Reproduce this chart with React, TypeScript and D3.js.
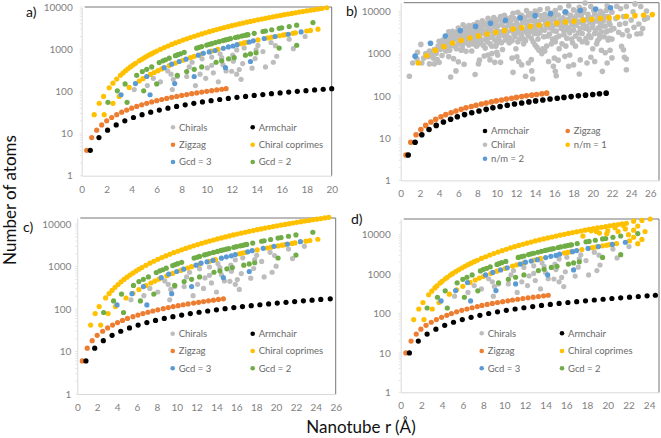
import * as d3 from "d3";
import { useEffect, useRef } from "react";

type Pt = [number, number];

// ---------- panel a ----------
const aChirals: Pt[] = [[4.2,110],[5.25,137],[5.73,204],[6.3,168],[6.88,305],[7.15,255],[7.33,193],[7.25,110],[7.65,225],[8.4,225],[8.6,380],[8.83,490],[9.1,137],[9.47,255],[9.63,590],[9.92,204],[10.05,360],[10.4,415],[10.53,275],[10.4,650],[10.93,168],[11.07,780],[11.2,630],[11.3,430],[11.55,305],[12,300],[12.08,720],[12.13,520],[12.4,960],[12.4,255],[12.6,330],[12.75,193],[12.88,455],[13,1070],[13.63,355],[13.87,600],[13.95,970],[14.1,1230],[14.5,880],[14.7,380],[15.15,1440],[15.33,490],[15.5,1210],[15.6,680],[16.6,1720],[16.93,1030],[17.87,2000]];
const aArmchair: Pt[] = [[0.69,4],[1.38,8],[2.07,12],[2.76,16],[3.45,20],[4.14,24],[4.83,28],[5.52,32],[6.21,36],[6.9,40],[7.59,44],[8.28,48],[8.97,52],[9.66,56],[10.35,60],[11.04,64],[11.73,68],[12.42,72],[13.11,76],[13.8,80],[14.49,84],[15.18,88],[15.87,92],[16.56,96],[17.25,100],[17.94,104],[18.63,108],[19.32,112],[20,116]];
const aZigzag: Pt[] = [[0.4,4],[0.8,8],[1.2,12],[1.6,16],[2,20],[2.4,24],[2.8,28],[3.2,32],[3.6,36],[4,40],[4.4,44],[4.8,48],[5.2,52],[5.6,56],[6,60],[6.4,64],[6.8,68],[7.2,72],[7.6,76],[8,80],[8.4,84],[8.8,88],[9.2,92],[9.6,96],[10,100],[10.4,104],[10.8,108],[11.2,112],[11.55,116]];
const aCoprimes: Pt[] = [[1,28],[1.4,52],[1.75,76],[1.8,28],[2.5,52],[3,76],[3.8,124],[4.6,176],[4.9,200],[5.5,252],[5.8,280],[6.1,310],[6.4,341],[7,408],[7.5,468],[8.1,546],[8.7,630],[9,675],[9.6,768],[10.4,900],[10.9,990],[12.7,1344],[13,1408],[13.2,1451],[14.1,1656],[14.9,1849],[15.2,1924],[15.8,2080],[16.1,2160],[16.3,2213],[16.9,2379],[17.1,2436],[18,2700],[18.3,2790],[18.9,2975],
  [2.2,121],[2.5,156],[2.8,196],[3.1,240],[3.3,272],[3.5,306],[3.7,342],[3.9,380],[4.1,420],[4.3,462],[4.6,529],[4.8,576],[5,625],[5.2,676],[5.4,729],[5.6,784],[5.8,841],[6,900],[6.3,992],[6.6,1089],[6.9,1190],[7.2,1296],[7.5,1406],[7.8,1521],[8.1,1640],[8.4,1764],[8.7,1892],[9,2025],[9.3,2162],[9.6,2304],[9.9,2450],[10.2,2601],[10.5,2756],[10.8,2916],[11.1,3080],[11.4,3249],[11.7,3422],[12,3600],[12.3,3782],[12.6,3969],[12.9,4160],[13.2,4356],[13.5,4556],[13.8,4761],[14.1,4970],[14.4,5184],[14.7,5402],[15,5625],[15.3,5852],[15.6,6084],[15.9,6320],[16.2,6561],[16.5,6806],[16.8,7056],[17.1,7310],[17.4,7569],[17.7,7832],[18,8100],[18.3,8372],[18.6,8649],[18.9,8930],[19.2,9216],[19.6,9604]];
const aGcd3: Pt[] = [[3.15,83],[4.3,153],[5.2,225],[6.6,365],[7.2,440],[7.8,510],[8.35,580],[9.33,720],[9.73,800],[10.2,860],[10.67,930],[11.33,1050],[11.73,1130],[12.1,1190],[12.43,1280],[13.4,1480],[13.73,1580],[14.6,1790],[15.47,2000],[16.53,2260],[17.55,2570],[5.47,83],[7.44,153],[9,225],[11.5,365],[13.5,510]];
const aGcd2: Pt[] = [[4.4,240],[4.85,295],[5.2,333],[5.6,380],[6.2,480],[6.5,528],[6.7,561],[7,612],[7.5,703],[7.7,741],[7.9,780],[8.2,840],[9.2,1058],[9.4,1105],[9.6,1152],[10,1250],[10.2,1300],[10.4,1352],[10.7,1431],[11,1512],[11.3,1596],[11.5,1653],[11.7,1711],[11.9,1770],[12.3,1891],[12.5,1953],[12.8,2048],[13,2112],[13.2,2178],[13.3,2211],[13.8,2380],[14.5,2628],[14.7,2701],[15.2,2888],[15.8,3120],[16,3200],[16.6,3445],[17.2,3698],[18.5,4278],
  [2.1,55],[2.85,103],[3.47,150],[3.63,55],[4.96,103],[6,150],[7.65,240],[8.4,295],[9,333],[9.6,380],[10.75,490],[11.2,530],[11.75,590],[12.2,630],[13.1,720],[13.5,770],[13.95,820],[15.8,1060],[17.2,1240]];

// ---------- panel b ----------
const bArmchair: Pt[] = [[0.78,4],[1.5,8],[2.2,12],[2.95,16],[3.7,20],[4.45,24],[5.2,28],[5.9,32],[6.65,36],[7.4,40],[8.15,44],[8.9,48],[9.6,52],[10.35,56],[11.1,60],[11.85,64],[12.6,68],[13.35,72],[14.05,76],[14.8,80],[15.55,84],[16.3,88],[17,92],[17.75,96],[18.5,100],[19.25,104],[20,108],[20.7,112],[21.4,116]];
const bZigzag: Pt[] = [[0.55,4],[1.05,8],[1.6,12],[2.1,16],[2.6,20],[3.15,24],[3.65,28],[4.2,32],[4.7,36],[5.25,40],[5.75,44],[6.3,48],[6.8,52],[7.35,56],[7.85,60],[8.4,64],[8.9,68],[9.45,72],[9.95,76],[10.5,80],[11,84],[11.55,88],[12.05,92],[12.6,96],[13.1,100],[13.65,104],[14.15,108],[14.7,112],[15.2,116]];
const bRatio1: Pt[] = [[1.84,600],[2.7,890],[3.6,1190],[4.5,1460],[5.4,1780],[6.3,2050],[7.2,2330],[8.1,2620],[9,2900],[9.9,3200],[10.8,3500],[11.7,3800],[12.6,4100],[13.5,4400],[14.4,4700],[15.3,5000],[16.25,5300],[17.15,5600],[18.05,5800],[19,6200],[19.9,6500],[20.8,6800],[21.7,7000],[22.6,7300],[23.5,7600],[24.4,7900],[25.3,8100],[26.2,8400]];
const bRatio2: Pt[] = [[1.5,870],[3.1,1750],[4.65,2600],[6.2,3500],[7.8,4400],[9.35,5200],[10.9,6100],[12.45,7000],[14,7900],[15.6,8800],[17.15,9700],[18.7,10500],[20.3,11300],[21.85,12100]];
const bChiral: Pt[] = [[0.9,290],[1.25,600],[2.2,600],[1.75,1080],[2.1,1650],[3,570],[3.5,570],[4,620],[5.2,280],[5.75,390],[5.5,760],[6,640],[6.6,560],[6.8,1130],[7.75,320],[8.1,570],[8.2,700],[8.7,880],[9.1,930],[9.5,1000],[10,1080],[10.1,930],[9.3,710],[9.8,620],[10.4,620],[11.7,360],[11.6,780],[12.1,840],[12.3,650],[12.6,540],[13,290],[13.3,600],[13.6,720],[13.65,390],[13.75,250],[14.2,1400],[14.4,1200],[14.7,1000],[15.4,650],[15.9,500],[16.1,380],[16.2,300],[16,780],[16.4,700],[17.1,860],[17.5,500],[18,540],[17.6,930],[18.7,710],[18.6,330],[19.4,600],[19.8,820],[20.2,650],[21,380],[21.5,600],[22,790],[23.5,415],[23.5,740],[23.3,820],[23,1480],[23.2,1230],
  [1.7,750],[2.4,780],[2.6,1000],[2.9,850],[3,1150],[3.2,950],[3.4,780],[3.5,1250],[3.7,1000],[3.8,720],[3.9,1500],[4,1950],[4.1,1250],[4.3,900],[4.4,2100],[4.6,1700],[4.7,1150],[4.8,2000],[4.9,1400],[5,850],[5,3300],[5.2,2200],[5.3,1550],[5.4,3350],[5.6,2500],[5.8,1300],[5.9,3300],[6,4000],[6.1,2700],[6.2,1800],[6.4,1400],[6.5,4800],[6.6,3000],[6.7,4100],[6.8,2200],[7,3600],[7.1,1600],[7.3,4400],[7.4,1150],[7.5,2700],[7.6,3300],[7.8,2000],[7.9,1500],[8,5400],[8.1,3600],[8.2,2500],[8.3,1800],[8.5,6000],[8.6,4700],[8.7,3000],[8.8,1350],[8.9,2200],[9.1,6800],[9.2,3800],[9.3,1700],[9.5,5800],[9.6,2600],[9.7,7100],[9.8,4300],[9.9,1500],[10.1,6200],[10.2,3000],[10.3,2000],[10.4,7500],[10.5,4800],[10.6,1250],[10.8,8100],[10.9,3700],[11,2500],[11.2,5500],[11.3,1800],[11.5,7200],[11.6,4000],[11.7,9000],[11.8,2900],[12,6200],[12,1300],[12.2,9500],[12.3,4500],[12.4,2200],[12.6,8000],[12.7,3300],[12.8,1700],[13,6000],[13.1,10500],[13.2,4400],[13.3,2600],[13.5,8800],[13.6,3400],[13.8,1900],[13.9,6500],[14,10200],[14.1,4900],[14.3,2900],[14.5,11000],[14.6,7800],[14.7,3700],[14.8,1300],[15,1150],[15.1,6200],[15.2,4500],[15.3,11400],[15.5,2900],[15.6,7000],[15.7,1700],[15.9,3500],[16,8000],[16.1,10500],[16.2,2400],[16.4,5500],[16.5,1300],[16.6,12200],[16.8,4300],[16.9,7000],[17,2800],[17.2,1500],[17.3,9000],[17.4,3700],[17.5,13500],[17.6,6000],[17.8,2200],[18,10800],[18,4700],[18.2,1500],[18.3,7800],[18.5,3100],[18.6,12500],[18.8,5500],[18.9,1900],[19,9500],[19.2,15800],[19.2,4000],[19.4,1800],[19.5,6800],[19.6,2700],[19.8,13000],[20,5000],[20,1300],[20.2,8800],[20.3,3500],[20.5,2000],[20.6,6000],[20.7,2800],[20.8,10000],[20.9,1200],[21,4500],[21.2,7500],[21.3,1050],[21.4,3300],[21.5,13500],[21.6,2100],[21.7,5700],[21.8,1200],[22,9500],[22,2200],[22.2,3900],[22.4,6800],[22.5,13200],[22.7,3200],[22.8,4900],[22.9,11500],[23.1,2800],[23.2,7500],[23.4,5200],[23.5,13000],[23.6,3500],[23.8,2600],[24,6200],[24.2,9800],[24.3,4200],[24.4,15000],[24.6,2900],[24.8,5000],[25,13000],[25,3000],[25.2,3900],[25.4,6500],[25.6,10200],[25.7,7000],
  [4.2,1600],[4.5,1300],[4.6,2050],[4.9,1750],[5.1,1200],[5.2,2700],[5.3,1900],[5.5,2900],[5.6,1500],[5.7,2200],[5.8,3000],[6,1700],[6.1,3300],[6.2,2300],[6.3,1200],[6.4,2900],[6.5,1700],[6.6,3600],[6.7,2500],[6.9,3000],[6.9,1800],[7,2300],[7.1,4600],[7.2,2900],[7.3,1950],[7.4,3600],[7.5,1700],[7.6,4800],[7.7,2400],[7.8,3000],[7.9,4200],[8,2200],[8.1,1700],[8.2,4800],[8.3,3100],[8.4,3900],[8.5,2100],[8.6,1550],[8.7,5300],[8.8,3400],[8.9,2700],[9,4400],[9,1900],[9.1,3200],[9.2,5600],[9.3,2400],[9.4,3500],[9.5,1500],[9.6,4700],[9.7,2900],[9.8,2100],[9.9,5500],[10,3600],[10,1700],[10.1,4500],[10.2,2400],[10.3,6500],[10.4,3300],[10.5,1800],[10.6,5500],[10.7,2700],[10.8,4200],[10.9,2100],[11,6800],[11.1,3200],[11.2,4600],[11.3,2400],[11.4,5800],[11.5,3500],[11.6,2000],[11.7,4700],[11.8,6800],[11.9,2500],[12,3700],[12.1,5200],[12.2,1900],[12.3,3100],[12.4,7200],[12.5,4000],[12.6,2600],[12.7,5500],[12.8,2200],[12.9,7000],[13,3500],[13,2000],[13.1,5000],[13.2,3000],[13.3,8000],[13.4,3800],[13.5,6000],[13.6,2300],[13.7,4400],[13.8,7500],[13.9,3000],[14,5500],[14,1600],[14.1,3800],[14.2,8500],[14.3,2200],[14.4,5800],[14.5,3200],[14.6,4500],[14.8,6500],[14.9,2500],[15,8500],[15,3600],[15.1,5200],[15.2,1500],[15.3,2600],[15.4,7500],[15.5,4100],[15.6,5400],[15.7,9000],[15.8,2200],[15.9,4600],[16,6500],[16.1,1900],[16.2,3400],[16.3,4800],[16.4,8200],[16.5,2600],[16.6,6200],[16.7,4000],[16.8,1700],[16.9,5200],[17,3400],[17.1,9500],[17.2,4500],[17.3,2300],[17.4,6500],[17.5,4100],[17.6,3100],[17.7,8000],[17.8,5200],[17.9,1800],[18,3600],[18.1,6800],[18.2,2600],[18.3,4700],[18.4,9800],[18.5,5700],[18.6,2200],[18.7,3900],[18.8,7800],[18.9,3000],[19,5000],[19.1,11000],[19.2,6200],[19.3,2300],[19.4,4400],[19.5,8500],[19.6,3600],[19.7,5600],[19.8,2400],[19.9,7000],[20,4200],[20.1,10500],[20.2,3000],[20.3,5900],[20.4,1700],[20.5,7800],[20.6,4100],[20.7,2300],[20.8,5200],[20.9,3300],[21,8800],[21.1,6000],[21.2,2500],[21.3,4500],[21.4,10500],[21.5,3400],[21.6,7500],[21.7,2300],[21.8,4800],[21.9,3600]];

// ---------- panel c ----------
const cChirals: Pt[] = [[5.4,165],[6.7,206],[7.3,306],[8.1,252],[8.8,458],[9.15,382],[9.4,290],[9.3,165],[9.8,338],[10.75,338],[11,570],[11.3,735],[11.65,206],[12.1,382],[12.3,885],[12.7,306],[12.85,540],[13.3,622],[13.5,412],[13.3,975],[14,252],[14.15,1170],[14.35,945],[14.5,645],[14.8,458],[15.35,450],[15.45,1080],[15.5,780],[15.9,1440],[15.9,382],[16.1,495],[16.3,290],[16.5,682],[16.65,1605],[17.45,532],[17.75,900],[17.85,1455],[18.05,1845],[18.55,1320],[18.8,570],[19.4,2160],[19.6,735],[19.85,1815],[20,1020],[21.25,2580],[21.65,1545],[22.85,3000]];
const cArmchair: Pt[] = [[0.87,6],[1.75,12],[2.62,18],[3.5,24],[4.37,30],[5.25,36],[6.12,42],[7,48],[7.87,54],[8.75,60],[9.62,66],[10.5,72],[11.37,78],[12.25,84],[13.12,90],[14,96],[14.87,102],[15.75,108],[16.62,114],[17.5,120],[18.37,126],[19.25,132],[20.12,138],[21,144],[21.87,150],[22.75,156],[23.62,162],[24.5,168],[25.45,174]];
const cZigzag: Pt[] = [[0.5,6],[1,12],[1.5,18],[2,24],[2.55,30],[3.05,36],[3.55,42],[4.05,48],[4.55,54],[5.05,60],[5.6,66],[6.1,72],[6.6,78],[7.1,84],[7.6,90],[8.1,96],[8.65,102],[9.15,108],[9.65,114],[10.15,120],[10.65,126],[11.15,132],[11.7,138],[12.2,144],[12.7,150],[13.2,156],[13.7,162],[14.2,168],[14.7,174]];
const cCoprimes: Pt[] = [[1.34,42],[1.8,78],[2.2,114],[2.35,42],[3.1,78],[3.83,114],[4.9,182],[5.6,235],[6.2,288],[6.9,358],[7.4,410],[7.8,456],[8.2,504],[9,608],[9.6,691],[10.4,811],[11.1,924],[11.5,991],[12.3,1134],[13.3,1327],[13.9,1449],[16.3,1993],[16.6,2067],[16.9,2142],[18.1,2457],[19.1,2736],[19.5,2852],[20.2,3060],[20.6,3183],[20.9,3276],[21.6,3499],[21.9,3597],[23,3968],[23.4,4107],[24.2,4392],
  [2.85,183],[3.2,230],[3.5,276],[3.8,325],[4.1,378],[4.4,436],[4.7,497],[5,563],[5.3,632],[5.6,706],[5.9,783],[6.2,865],[6.5,951],[6.9,1071],[7.3,1199],[7.7,1334],[8.1,1476],[8.5,1626],[8.9,1782],[9.3,1946],[9.7,2117],[10.1,2295],[10.5,2481],[10.9,2673],[11.3,2873],[11.7,3080],[12.1,3294],[12.5,3516],[12.9,3744],[13.3,3980],[13.7,4223],[14.1,4473],[14.5,4731],[14.9,4995],[15.3,5267],[15.7,5546],[16.1,5832],[16.5,6126],[16.9,6426],[17.3,6734],[17.7,7049],[18.1,7371],[18.5,7701],[18.9,8037],[19.3,8381],[19.7,8732],[20.1,9090],[20.5,9456],[20.9,9828],[21.3,10208],[21.7,10595],[22.1,10989],[22.5,11391],[22.9,11799],[23.3,12215],[23.7,12638],[24.1,13068],[24.5,13506],[24.9,13950],[25.3,14400]];
const cGcd3: Pt[] = [[4,125],[5.5,230],[6.65,338],[8.45,548],[9.2,660],[10,765],[10.7,870],[11.95,1080],[12.45,1200],[13.05,1290],[13.65,1395],[14.5,1575],[15,1695],[15.5,1785],[15.9,1920],[17.15,2220],[17.6,2370],[18.7,2685],[19.8,3000],[21.15,3390],[22.45,3855],[7,125],[9.5,230],[11.5,338],[14.7,548],[17.3,765]];
const cGcd2: Pt[] = [[5.65,360],[6.2,442],[6.65,500],[7.15,570],[7.95,720],[8.3,792],[8.6,842],[8.95,918],[9.6,1054],[9.85,1112],[10.1,1170],[10.5,1260],[11.75,1587],[12.05,1658],[12.3,1728],[12.8,1875],[13.05,1950],[13.3,2028],[13.7,2147],[14.1,2268],[14.45,2394],[14.7,2480],[15,2567],[15.25,2655],[15.75,2837],[16,2930],[16.4,3072],[16.65,3168],[16.9,3267],[17.05,3317],[17.65,3570],[18.55,3942],[18.8,4052],[19.45,4332],[20.2,4680],[20.5,4800],[21.25,5168],[22,5547],[23.7,6417],
  [2.65,83],[3.65,155],[4.45,225],[4.65,83],[6.35,155],[7.7,225],[9.8,360],[10.75,442],[11.5,500],[12.3,570],[13.75,735],[14.35,795],[15.05,885],[15.6,945],[16.75,1080],[17.3,1155],[17.85,1230],[20.2,1590],[22,1860]];

// ---------- panel d ----------
const dChirals: Pt[] = [[5.2,275],[6.5,342],[7.1,510],[7.8,420],[8.5,762],[8.85,638],[9.05,482],[8.95,275],[9.45,562],[10.4,562],[10.65,950],[10.9,1225],[11.25,342],[11.7,638],[11.9,1475],[12.25,510],[12.4,900],[12.85,1038],[13,688],[12.85,1625],[13.5,420],[13.65,1950],[13.85,1575],[14,1075],[14.25,762],[14.8,750],[14.9,1800],[15,1300],[15.3,2400],[15.3,638],[15.55,825],[15.75,482],[15.9,1138],[16.05,2675],[16.85,888],[17.15,1500],[17.25,2425],[17.4,3075],[17.9,2200],[18.15,950],[18.7,3600],[18.95,1225],[19.15,3025],[19.25,1700],[20.5,4300],[20.9,2575],[22.05,5000]];
const dArmchair: Pt[] = [[0.84,10],[1.7,20],[2.55,30],[3.4,40],[4.25,50],[5.1,60],[5.95,70],[6.8,80],[7.65,90],[8.5,100],[9.35,110],[10.2,120],[11.05,130],[11.9,140],[12.75,150],[13.6,160],[14.45,170],[15.3,180],[16.15,190],[17,200],[17.85,210],[18.7,220],[19.55,230],[20.4,240],[21.25,250],[22.1,260],[22.95,270],[23.8,280],[24.6,290]];
const dZigzag: Pt[] = [[0.5,10],[1,20],[1.5,30],[1.95,40],[2.45,50],[2.95,60],[3.45,70],[3.95,80],[4.45,90],[4.9,100],[5.4,110],[5.9,120],[6.4,130],[6.9,140],[7.4,150],[7.85,160],[8.35,170],[8.85,180],[9.35,190],[9.85,200],[10.35,210],[10.8,220],[11.3,230],[11.8,240],[12.3,250],[12.8,260],[13.3,270],[13.8,280],[14.25,290]];
const dCoprimes: Pt[] = [[1.25,70],[1.75,130],[2.15,190],[2.25,70],[3.05,130],[3.7,190],[4.7,310],[5.4,398],[6,490],[6.7,613],[7.2,708],[7.6,790],[8,875],[8.7,1035],[9.3,1182],[10.1,1395],[10.8,1595],[11.2,1715],[11.9,1936],[12.9,2275],[13.5,2491],[15.8,3413],[16.1,3544],[16.4,3677],[17.5,4187],[18.5,4679],[18.9,4883],[19.5,5199],[19.9,5414],[20.2,5578],[20.85,5943],
  [2.7,299],[3,369],[3.3,446],[3.5,502],[3.8,592],[4,656],[4.3,758],[4.5,830],[4.8,945],[5,1025],[5.3,1152],[5.6,1286],[5.9,1427],[6.2,1576],[6.5,1732],[6.8,1896],[7.1,2067],[7.4,2245],[7.8,2494],[8.2,2757],[8.6,3032],[9,3321],[9.4,3623],[9.8,3938],[10.2,4266],[10.6,4607],[11,4961],[11.4,5328],[11.8,5709],[12.2,6102],[12.6,6509],[13,6929],[13.4,7362],[13.8,7808],[14.2,8267],[14.6,8740],[15,9225],[15.4,9724],[15.8,10235],[16.2,10760],[16.6,11298],[17,11849],[17.4,12413],[17.8,12990],[18.2,13581],[18.6,14184],[19,14801],[19.4,15431],[19.8,16074],[20.2,16730],[20.6,17399],[21,18081],[21.4,18776],[21.8,19485],
  [24.1,25000],[23.3,23000],[22.5,22000],[22.9,16500],[22.5,13000],[22,10000],[23.6,12000],[23.3,7600],[22.5,8600],[22.9,5900],[22.1,7000],[20,12500],[19.2,11000],[18.4,12500],[17.6,9200],[20.7,15000],[21.5,17000],[21.7,14000],[19.9,10500],[21,12000],[18.9,12000]];
const dGcd3: Pt[] = [[3.9,208],[5.3,382],[6.45,608],[8.2,950],[8.9,1100],[9.65,1275],[10.3,1450],[11.55,1800],[12.05,2000],[12.6,2150],[13.2,2325],[14,2625],[14.5,2825],[15,2975],[15.35,3200],[16.6,3700],[17,3950],[18.1,4475],[19.1,5000],[20.45,5650],[21.7,6425],[6.75,208],[9.2,382],[11.1,562],[14.2,950],[16.7,1275]];
const dGcd2: Pt[] = [[5.45,600],[6,738],[6.4,832],[6.9,950],[7.7,1200],[8,1320],[8.3,1402],[8.65,1530],[9.3,1757],[9.5,1852],[9.75,1950],[10.15,2100],[11.35,2645],[11.65,2765],[11.9,2880],[12.35,3125],[12.6,3250],[12.85,3380],[13.25,3580],[13.6,3780],[13.95,3990],[14.2,4132],[14.5,4278],[14.75,4425],[15.2,4728],[15.45,4883],[15.85,5120],[16.1,5280],[16.35,5445],[16.5,5528],[17.05,5950],[17.9,6570],[18.2,6752],[18.8,7220],[19.5,7800],[19.8,8000],[20.5,8612],[21.25,9245],[22.9,10695],
  [2.55,138],[3.55,258],[4.3,375],[4.5,138],[6.15,258],[7.45,375],[9.45,600],[10.4,738],[11.1,832],[11.9,950],[13.3,1225],[13.85,1325],[14.55,1475],[15.1,1575],[16.2,1800],[16.7,1925],[17.25,2050],[19.5,2650],[21.25,3100]];

const xTicksA = d3.range(0, 21, 2);
const xTicksB = d3.range(0, 27, 2);
const xTicksC = d3.range(0, 27, 2);
const xTicksD = d3.range(0, 25, 2);
const decades = [1, 10, 100, 1000, 10000];

const GREY = "#bdbdbd";
const ORANGE = "#ed7d31";
const YELLOW = "#ffc000";
const BLUE = "#5b9bd5";
const GREEN = "#70ad47";
const BLACK = "#000000";
const FONT = "Lato, 'Open Sans', sans-serif";

// series are listed in draw order, legend keeps its own place
const panels = [
  {
    label: "a)", lx: 26, ly: 17, x0: 81.7, x1: 331.7, xMax: 20, xTicks: xTicksA, yTop: 7, yBottom: 175.7, top: 10000, pad: 9, r: 2.6,
    series: [[aChirals, GREY], [aCoprimes, YELLOW], [aGcd2, GREEN], [aGcd3, BLUE], [aZigzag, ORANGE], [aArmchair, BLACK]],
    legendX: [173, 252.7], legendY: [127.3, 144.7, 162],
    legend: [["Chirals", GREY, 0, 0], ["Armchair", BLACK, 1, 0], ["Zigzag", ORANGE, 0, 1], ["Chiral coprimes", YELLOW, 1, 1], ["Gcd = 3", BLUE, 0, 2], ["Gcd = 2", GREEN, 1, 2]],
  },
  {
    label: "b)", lx: 346, ly: 16, x0: 400.7, x1: 659, xMax: 26.9, xTicks: xTicksB, yTop: 2.7, yBottom: 180.4, top: 16000, pad: 10, r: 2.8,
    series: [[bChiral, GREY], [bRatio2, BLUE], [bRatio1, YELLOW], [bZigzag, ORANGE], [bArmchair, BLACK]],
    legendX: [485, 567.7], legendY: [131, 144.7, 158.7],
    legend: [["Armchair", BLACK, 0, 0], ["Zigzag", ORANGE, 1, 0], ["Chiral", GREY, 0, 1], ["n/m = 1", YELLOW, 1, 1], ["n/m = 2", BLUE, 0, 2]],
  },
  {
    label: "c)", lx: 23, ly: 232, x0: 77.3, x1: 335.7, xMax: 26, xTicks: xTicksC, yTop: 218, yBottom: 394, top: 13900, pad: 6, r: 2.6,
    series: [[cChirals, GREY], [cCoprimes, YELLOW], [cGcd2, GREEN], [cGcd3, BLUE], [cZigzag, ORANGE], [cArmchair, BLACK]],
    legendX: [172.7, 252.7], legendY: [333.7, 351, 368.3],
    legend: [["Chirals", GREY, 0, 0], ["Armchair", BLACK, 1, 0], ["Zigzag", ORANGE, 0, 1], ["Chiral coprimes", YELLOW, 1, 1], ["Gcd = 3", BLUE, 0, 2], ["Gcd = 2", GREEN, 1, 2]],
  },
  {
    label: "d)", lx: 351, ly: 224, x0: 400.7, x1: 659, xMax: 24.95, xTicks: xTicksD, yTop: 219, yBottom: 392.3, top: 25000, pad: 10, r: 2.6,
    series: [[dChirals, GREY], [dGcd2, GREEN], [dCoprimes, YELLOW], [dGcd3, BLUE], [dZigzag, ORANGE], [dArmchair, BLACK]],
    legendX: [481.7, 562], legendY: [333.3, 351, 368.3],
    legend: [["Chirals", GREY, 0, 0], ["Armchair", BLACK, 1, 0], ["Zigzag", ORANGE, 0, 1], ["Chiral coprimes", YELLOW, 1, 1], ["Gcd = 3", BLUE, 0, 2], ["Gcd = 2", GREEN, 1, 2]],
  },
];

const App = () => {
  const svgRef = useRef(null);

  useEffect(() => {
    const w = 661;
    const h = 438;
    const svg = d3.select(svgRef.current).attr("width", w).attr("height", h).style("display", "block");
    svg.selectAll("*").remove();

    panels.forEach((p: any) => {
      const xScale = d3.scaleLinear().domain([0, p.xMax]).range([p.x0, p.x1]);
      const yScale = d3.scaleLog().domain([1, p.top]).range([p.yBottom, p.yTop]);
      const g = svg.append("g");

      // bottom axis
      const xAxis = d3.axisBottom(xScale).tickValues(p.xTicks).tickSize(0).tickPadding(10).tickFormat(d3.format("d"));
      const gx = g.append("g").attr("transform", `translate(0,${p.yBottom})`).call(xAxis);
      gx.select(".domain").attr("stroke", "#d9d9d9");
      gx.selectAll("text").attr("fill", "#7f7f7f").attr("font-size", 10).attr("font-family", FONT);

      // left axis with the log minor ticks
      const yAxis = d3.axisLeft(yScale).tickValues(decades.filter((d) => d <= p.top)).tickSize(0).tickPadding(p.pad).tickFormat(d3.format("d"));
      const gy = g.append("g").attr("transform", `translate(${p.x0},0)`).call(yAxis);
      gy.select(".domain").attr("stroke", "#d9d9d9");
      gy.selectAll("text").attr("fill", "#7f7f7f").attr("font-size", 10).attr("font-family", FONT);
      const minor = yScale.ticks().filter((d) => d <= p.top);
      g.selectAll(".minor")
        .data(minor)
        .enter()
        .append("line")
        .attr("x1", p.x0 - 2)
        .attr("x2", p.x0)
        .attr("y1", (d) => yScale(d))
        .attr("y2", (d) => yScale(d))
        .attr("stroke", "#e4e4e4");

      // frame on the top and right
      g.append("path")
        .attr("d", `M${p.x0 + 3},${p.yTop}H${p.x1}V${p.yBottom}`)
        .attr("fill", "none")
        .attr("stroke", "#777777");

      p.series.forEach(([pts, colour]: any) => {
        g.append("g")
          .selectAll("circle")
          .data(pts)
          .enter()
          .append("circle")
          .attr("cx", (d: any) => xScale(d[0]))
          .attr("cy", (d: any) => yScale(d[1]))
          .attr("r", p.r)
          .attr("fill", colour);
      });

      p.legend.forEach(([name, colour, col, row]: any) => {
        g.append("circle").attr("cx", p.legendX[col]).attr("cy", p.legendY[row]).attr("r", 2.3).attr("fill", colour);
        g.append("text")
          .text(name)
          .attr("x", p.legendX[col] + 6)
          .attr("y", p.legendY[row] + 3.4)
          .attr("font-size", 9.5)
          .attr("font-family", FONT)
          .attr("fill", "#6a6a6a");
      });

      g.append("text").text(p.label).attr("x", p.lx).attr("y", p.ly).attr("font-size", 14).attr("font-family", FONT).attr("fill", "#111");
    });

    svg.append("text")
      .text("Number of atoms")
      .attr("transform", "translate(16,200) rotate(-90)")
      .attr("text-anchor", "middle")
      .attr("font-size", 17)
      .attr("font-family", FONT)
      .attr("fill", "#111");
    svg.append("text")
      .text("Nanotube r (Å)")
      .attr("x", 361)
      .attr("y", 433)
      .attr("text-anchor", "middle")
      .attr("font-size", 17)
      .attr("font-family", FONT)
      .attr("fill", "#111");
  }, []);

  return <svg ref={svgRef} style={{ position: "absolute", left: 0, top: 0 }}></svg>;
};

export default App;
